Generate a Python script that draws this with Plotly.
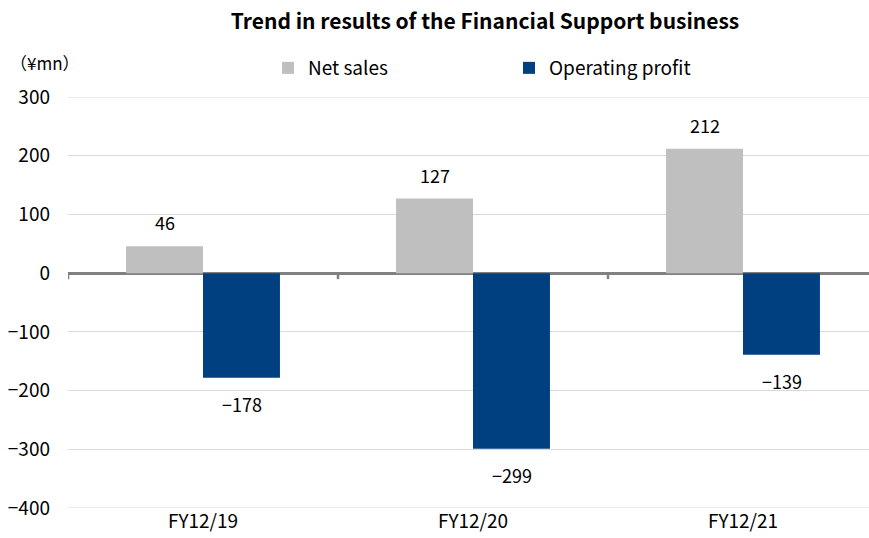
import plotly.graph_objects as go

categories = ["FY12/19", "FY12/20", "FY12/21"]
net_sales = [46, 127, 212]
operating_profit = [-178, -299, -139]
y_ticks = [300, 200, 100, 0, -100, -200, -300, -400]

FONT = "Noto Sans CJK JP"
GREY = "#bfbfbf"
BLUE = "#003f80"

W, H = 869, 538
L, T, B = 68, 97, 30
PW, PH = W - L, H - T - B

def fmt(v):
    return f"\u2212{abs(v)}" if v < 0 else str(v)

fig = go.Figure()
fig.add_trace(go.Bar(x=categories, y=net_sales, name="Net sales", marker_color=GREY,
                     marker_line_width=0))
fig.add_trace(go.Bar(x=categories, y=operating_profit, name="Operating profit",
                     marker_color=BLUE, marker_line_width=0))

annotations = []
for i, c in enumerate(categories):
    annotations.append(dict(x=i, y=net_sales[i], xref="x", yref="y", xshift=-38.5,
                            text=fmt(net_sales[i]), showarrow=False, yshift=24,
                            font=dict(family=FONT, size=18, color="#000")))
    annotations.append(dict(x=i, y=operating_profit[i], xref="x", yref="y", xshift=38.5,
                            text=fmt(operating_profit[i]), showarrow=False, yshift=-26,
                            font=dict(family=FONT, size=18, color="#000")))
annotations.append(dict(x=(8 - L) / PW, y=(H - B - 62) / PH, xref="paper", yref="paper",
                        xanchor="left", yanchor="middle",
                        text="（¥mn）", showarrow=False,
                        font=dict(family=FONT, size=17, color="#000")))

shapes = []
for b in [-0.5, 0.5, 1.5]:
    shapes.append(dict(type="line", xref="x", yref="y", x0=b, x1=b, y0=0, y1=-6,
                       ysizemode="pixel", yanchor=0, line=dict(color="#808080", width=2.5)))
for v in [300, -400]:
    shapes.append(dict(type="line", xref="paper", yref="y", x0=0, x1=1, y0=v, y1=v,
                       line=dict(color="#d9d9d9", width=1), layer="below"))

fig.update_layout(
    width=W, height=H,
    margin=dict(l=L, r=0, t=T, b=B, autoexpand=False),
    paper_bgcolor="white", plot_bgcolor="white",
    barmode="group", bargap=0.43, bargroupgap=0,
    title=dict(text="<b>Trend in results of the Financial Support business</b>",
               x=485 / W, xanchor="center", xref="container",
               y=1 - 22 / H, yanchor="middle", yref="container",
               font=dict(family=FONT, size=21, color="#000")),
    legend=dict(orientation="h", x=268 / W, xanchor="left", y=1 - 68 / H, yanchor="middle",
                xref="container", yref="container",
                font=dict(family=FONT, size=19, color="#000"),
                entrywidth=196, entrywidthmode="pixels", itemwidth=30,
                bgcolor="rgba(0,0,0,0)"),
    font=dict(family=FONT, size=19, color="#000"),
    xaxis=dict(type="category", range=[-0.5, 2.5 - 9 / 270], showgrid=False, showline=False,
               ticks="", tickfont=dict(family=FONT, size=19, color="#000"), fixedrange=True),
    yaxis=dict(range=[-400, 300], tickvals=y_ticks, ticktext=[fmt(v) for v in y_ticks],
               showgrid=True, gridcolor="#d9d9d9", gridwidth=1,
               zeroline=True, zerolinecolor="#808080", zerolinewidth=2.5,
               showline=False, ticks="", ticklabelstandoff=17,
               tickfont=dict(family=FONT, size=19, color="#000")),
    annotations=annotations,
    shapes=shapes,
)

fig.write_html("out.html")
